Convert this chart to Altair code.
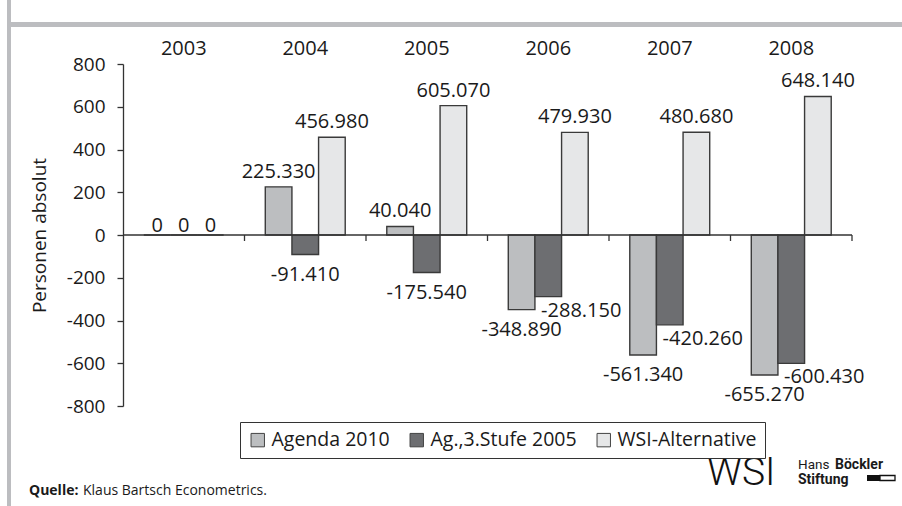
import altair as alt
import pandas as pd

# ---------------- data ----------------
years = ["2003", "2004", "2005", "2006", "2007", "2008"]
series = ["Agenda 2010", "Ag.,3.Stufe 2005", "WSI-Alternative"]
agenda_2010 = [0, 225330, 40040, -348890, -561340, -655270]
stufe3_2005 = [0, -91410, -175540, -288150, -420260, -600430]
wsi_alternative = [0, 456980, 605070, 479930, 480680, 648140]
y_ticks = [-800, -600, -400, -200, 0, 200, 400, 600, 800]
y_title = "Personen absolut"
source_bold = "Quelle:"
source_text = "Klaus Bartsch Econometrics."

# ---------------- style / layout ----------------
colors = ["#bcbec0", "#6d6e71", "#e6e7e8"]
W, H = 729, 342
PAD = {"left": 123, "top": 64, "right": 50, "bottom": 100}
FONT = "Open Sans"
INK = "#1a1a1a"
LINE = "#333333"
FRAME = "#bcbdc0"
# labels that the original moved aside to avoid overlaps
nudged = {("Ag.,3.Stufe 2005", "2006"), ("Ag.,3.Stufe 2005", "2007"), ("Ag.,3.Stufe 2005", "2008")}

rows = []
for s, vals in zip(series, [agenda_2010, stufe3_2005, wsi_alternative]):
    for yr, v in zip(years, vals):
        rows.append({
            "year": yr, "series": s, "persons": v, "thousand": v / 1000,
            "label": f"{v:,}".replace(",", "."),
            "kind": ("nudge" if (s, yr) in nudged else
                     "pos" if v > 0 else "zero" if v == 0 else "neg"),
        })
df = pd.DataFrame(rows)

x_axis = alt.Axis(orient="top", domain=False, ticks=False, labelAngle=0,
                  labelFont=FONT, labelFontSize=20, labelColor=INK, labelPadding=6)
x_scale = alt.Scale(paddingInner=0, paddingOuter=0)
x_enc = alt.X("year:N", sort=years, title=None, scale=x_scale, axis=x_axis)
xo_enc = alt.XOffset("series:N", sort=series,
                     scale=alt.Scale(paddingInner=0, paddingOuter=0.78))
y_enc = alt.Y("thousand:Q", title=y_title,
              scale=alt.Scale(domain=[-800, 800], nice=False, zero=True),
              axis=alt.Axis(values=y_ticks, grid=False, tickSize=6, tickColor=LINE,
                            domainColor=LINE, domainWidth=1.3, tickWidth=1.3,
                            labelExpr="toString(datum.value)",
                            labelFont=FONT, labelFontSize=19, labelColor=INK,
                            labelPadding=12, titleFont=FONT, titleFontSize=19,
                            titleFontWeight="normal", titleColor=INK, titlePadding=17))

base = alt.Chart(df)

bars = base.mark_bar(stroke="#3a3a3a", strokeWidth=1.4).encode(
    x=x_enc, xOffset=xo_enc, y=y_enc,
    color=alt.Color("series:N", sort=series,
                    scale=alt.Scale(domain=series, range=colors),
                    legend=alt.Legend(title=None, orient="none", legendX=117, legendY=358,
                                      direction="horizontal", symbolType="square",
                                      symbolSize=180, symbolStrokeColor="#444444",
                                      symbolStrokeWidth=1, symbolOpacity=1,
                                      labelFont=FONT, labelFontSize=19.5, labelColor=INK,
                                      labelOffset=4, columnPadding=17,
                                      strokeColor=LINE, fillColor="white", padding=8)),
)

def labels(kind, **kw):
    return base.transform_filter(alt.datum.kind == kind).mark_text(
        font=FONT, fontSize=20, color=INK, **kw
    ).encode(x=x_enc, xOffset=xo_enc, y=y_enc, text="label:N")

lab_pos = labels("pos", baseline="alphabetic", dy=-9)
lab_zero = labels("zero", baseline="alphabetic", dy=-3)
lab_neg = labels("neg", baseline="top", dy=10)
lab_nudge = labels("nudge", baseline="top", dy=4, dx=33)

zero_line = alt.Chart(pd.DataFrame({"z": [0]})).mark_rule(color=LINE, strokeWidth=1.3).encode(
    y=alt.datum(0), x=alt.value(0), x2=alt.value(W))

bticks = alt.Chart(pd.DataFrame({"year": years})).mark_rule(color=LINE, strokeWidth=1.3).encode(
    x=alt.X("year:N", sort=years, bandPosition=1, title=None, scale=x_scale, axis=x_axis),
    y=alt.datum(0), y2=alt.datum(-28))

# ---------------- frame and footer ----------------
one = pd.DataFrame({"k": [0]})
frame_left = alt.Chart(one).mark_rect(color=FRAME).encode(
    x=alt.value(-116), x2=alt.value(-112), y=alt.value(-64), y2=alt.value(442))
frame_top = alt.Chart(one).mark_rect(color=FRAME).encode(
    x=alt.value(-112), x2=alt.value(779), y=alt.value(-42), y2=alt.value(-37))

def txt(s, x, y, size, weight="normal", font=FONT, align="left"):
    return alt.Chart(one).mark_text(text=s, font=font, fontSize=size, fontWeight=weight,
                                    color=INK, align=align, baseline="alphabetic").encode(
        x=alt.value(x), y=alt.value(y))

q1 = txt(source_bold, -94, 431, 14, "bold")
q2 = txt(source_text, -40, 431, 14)
wsi_logo = alt.Chart(one).mark_text(text="WSI", font="Roboto", fontSize=39, fontWeight=300,
                                    color="#111111", align="left", baseline="alphabetic").encode(
    x=alt.value(584), y=alt.value(421))
hans = txt("Hans", 675, 405, 13.5, font="Roboto")
boeckler = txt("Böckler", 712, 405, 14, "bold", font="Roboto")
stiftung = txt("Stiftung", 675, 420, 14, "bold", font="Roboto")
logo_fill = alt.Chart(one).mark_rect(color="#111111").encode(
    x=alt.value(744), x2=alt.value(757), y=alt.value(411), y2=alt.value(417))
logo_open = alt.Chart(one).mark_rect(fill="white", stroke="#111111", strokeWidth=1.3).encode(
    x=alt.value(757), x2=alt.value(772), y=alt.value(411.5), y2=alt.value(416.5))

chart = alt.layer(
    frame_left, frame_top, bars, zero_line, bticks,
    lab_pos, lab_zero, lab_neg, lab_nudge,
    q1, q2, wsi_logo, hans, boeckler, stiftung, logo_fill, logo_open,
).properties(
    width=W, height=H,
    autosize=alt.AutoSizeParams(type="none"),
    padding=PAD,
    background="white",
).configure_view(stroke=None)

chart.save("out.html", embed_options={"renderer": "svg", "actions": False})
